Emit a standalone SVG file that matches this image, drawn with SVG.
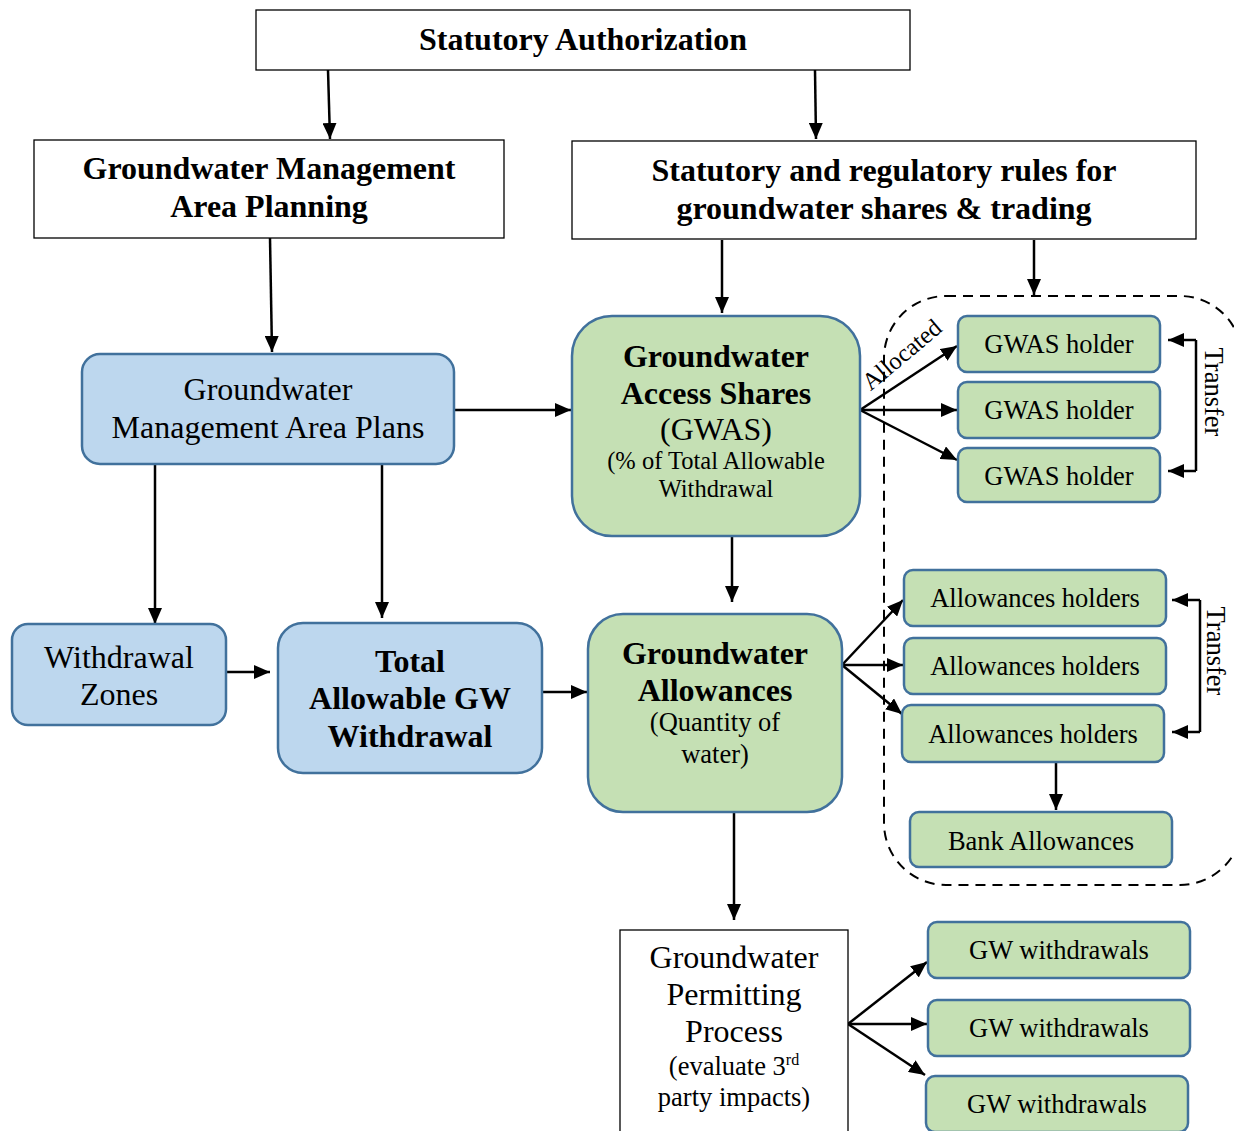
<svg xmlns="http://www.w3.org/2000/svg" width="1234" height="1131" viewBox="0 0 1234 1131">
<defs>
<marker id="ah" markerWidth="16" markerHeight="14" refX="16" refY="7" orient="auto" markerUnits="userSpaceOnUse"><path d="M0,0 L16,7 L0,14 Z" fill="#000"/></marker>
<style>
text{font-family:"Liberation Serif","Times New Roman",serif;fill:#000;text-anchor:middle}
.plain{fill:#fff;stroke:#000;stroke-width:1.3}
.blue{fill:#BDD7EE;stroke:#41719C;stroke-width:2.5}
.green{fill:#C5E0B4;stroke:#41719C;stroke-width:2.5}
.b28{font-size:32px;font-weight:bold}
.n28{font-size:32px}
.b30{font-size:32px;font-weight:bold}
.n26{font-size:26.5px}
.n24{font-size:24.5px}
.c{fill:none;stroke:#000;stroke-width:2.5}
.ca{fill:none;stroke:#000;stroke-width:2.5;marker-end:url(#ah)}
</style>
</defs>
<rect width="1234" height="1131" fill="#fff"/>

<g id="connectors">
<path class="ca" d="M328,70 L330,139"/>
<path class="ca" d="M815,70 L816,139"/>
<path class="ca" d="M270,238 L272,352"/>
<path class="ca" d="M722,240 L722,313"/>
<path class="ca" d="M1034,240 L1034,295"/>
<path class="ca" d="M454,410 L571,410"/>
<path class="ca" d="M860,410 L957,346"/>
<path class="ca" d="M860,410 L957,410"/>
<path class="ca" d="M860,410 L957,460"/>
<path class="c" d="M1196,340 L1196,471"/>
<path class="ca" d="M1196,340 L1168,340"/>
<path class="ca" d="M1196,471 L1168,471"/>
<path class="ca" d="M732,537 L732,602"/>
<path class="ca" d="M155,465 L155,624"/>
<path class="ca" d="M382,463 L382,618"/>
<path class="ca" d="M226,672 L270,672"/>
<path class="ca" d="M542,692 L587,692"/>
<path class="ca" d="M842,665 L903,600"/>
<path class="ca" d="M842,665 L903,665"/>
<path class="ca" d="M842,665 L902,714"/>
<path class="c" d="M1200,600 L1200,732"/>
<path class="ca" d="M1200,600 L1172,600"/>
<path class="ca" d="M1200,732 L1172,732"/>
<path class="ca" d="M1056,762 L1056,810"/>
<path class="ca" d="M734,812 L734,920"/>
<path class="ca" d="M848,1024 L927,962"/>
<path class="ca" d="M848,1024 L927,1024"/>
<path class="ca" d="M848,1024 L925,1075"/>
<rect x="884" y="296" width="358" height="589" rx="62" fill="none" stroke="#000" stroke-width="2" stroke-dasharray="10,7"/>
<text class="n24" transform="translate(907,361) rotate(-40)">Allocated</text>
<text class="n26" transform="translate(1205,392) rotate(90)">Transfer</text>
<text class="n26" transform="translate(1207,651) rotate(90)">Transfer</text>
</g>

<g id="statutory-authorization">
<rect class="plain" x="256" y="10" width="654" height="60"/>
<text class="b28" x="583" y="50">Statutory Authorization</text>
</g>
<g id="gma-planning">
<rect class="plain" x="34" y="140" width="470" height="98"/>
<text class="b28" x="269" y="179">Groundwater Management</text>
<text class="b28" x="269" y="217">Area Planning</text>
</g>
<g id="rules">
<rect class="plain" x="572" y="141" width="624" height="98"/>
<text class="b28" x="884" y="181">Statutory and regulatory rules for</text>
<text class="b28" x="884" y="219">groundwater shares &amp; trading</text>
</g>
<g id="gma-plans">
<rect class="blue" x="82" y="354" width="372" height="110" rx="18"/>
<text class="n28" x="268" y="400">Groundwater</text>
<text class="n28" x="268" y="438">Management Area Plans</text>
</g>
<g id="gwas">
<rect class="green" x="572" y="316" width="288" height="220" rx="40"/>
<text class="b30" x="716" y="367">Groundwater</text>
<text class="b30" x="716" y="404">Access Shares</text>
<text class="n28" x="716" y="440">(GWAS)</text>
<text class="n24" x="716" y="469">(% of Total Allowable</text>
<text class="n24" x="716" y="497">Withdrawal</text>
</g>
<g id="gwas-holder-1">
<rect class="green" x="958" y="316" width="202" height="56" rx="9"/>
<text class="n26" x="1059" y="353">GWAS holder</text>
</g>
<g id="gwas-holder-2">
<rect class="green" x="958" y="382" width="202" height="56" rx="9"/>
<text class="n26" x="1059" y="419">GWAS holder</text>
</g>
<g id="gwas-holder-3">
<rect class="green" x="958" y="448" width="202" height="54" rx="9"/>
<text class="n26" x="1059" y="485">GWAS holder</text>
</g>
<g id="withdrawal-zones">
<rect class="blue" x="12" y="624" width="214" height="101" rx="16"/>
<text class="n28" x="119" y="668">Withdrawal</text>
<text class="n28" x="119" y="705">Zones</text>
</g>
<g id="total-allowable">
<rect class="blue" x="278" y="623" width="264" height="150" rx="25"/>
<text class="b30" x="410" y="672">Total</text>
<text class="b30" x="410" y="709">Allowable GW</text>
<text class="b30" x="410" y="747">Withdrawal</text>
</g>
<g id="allowances">
<rect class="green" x="588" y="614" width="254" height="198" rx="35"/>
<text class="b30" x="715" y="664">Groundwater</text>
<text class="b30" x="715" y="701">Allowances</text>
<text class="n26" x="715" y="731">(Quantity of</text>
<text class="n26" x="715" y="763">water)</text>
</g>
<g id="allowances-holders-1">
<rect class="green" x="904" y="570" width="262" height="56" rx="9"/>
<text class="n26" x="1035" y="607">Allowances holders</text>
</g>
<g id="allowances-holders-2">
<rect class="green" x="904" y="638" width="262" height="56" rx="9"/>
<text class="n26" x="1035" y="675">Allowances holders</text>
</g>
<g id="allowances-holders-3">
<rect class="green" x="902" y="705" width="262" height="57" rx="9"/>
<text class="n26" x="1033" y="743">Allowances holders</text>
</g>
<g id="bank-allowances">
<rect class="green" x="910" y="812" width="262" height="55" rx="9"/>
<text class="n26" x="1041" y="850">Bank Allowances</text>
</g>
<g id="permitting">
<rect class="plain" x="620" y="930" width="228" height="215"/>
<text class="n28" x="734" y="968">Groundwater</text>
<text class="n28" x="734" y="1005">Permitting</text>
<text class="n28" x="734" y="1042">Process</text>
<text class="n26" x="734" y="1075">(evaluate 3<tspan font-size="16" dy="-10">rd</tspan></text>
<text class="n26" x="734" y="1106">party impacts)</text>
</g>
<g id="gw-withdrawals-1">
<rect class="green" x="928" y="922" width="262" height="56" rx="9"/>
<text class="n26" x="1059" y="959">GW withdrawals</text>
</g>
<g id="gw-withdrawals-2">
<rect class="green" x="928" y="1000" width="262" height="56" rx="9"/>
<text class="n26" x="1059" y="1037">GW withdrawals</text>
</g>
<g id="gw-withdrawals-3">
<rect class="green" x="926" y="1076" width="262" height="56" rx="9"/>
<text class="n26" x="1057" y="1113">GW withdrawals</text>
</g>
</svg>
